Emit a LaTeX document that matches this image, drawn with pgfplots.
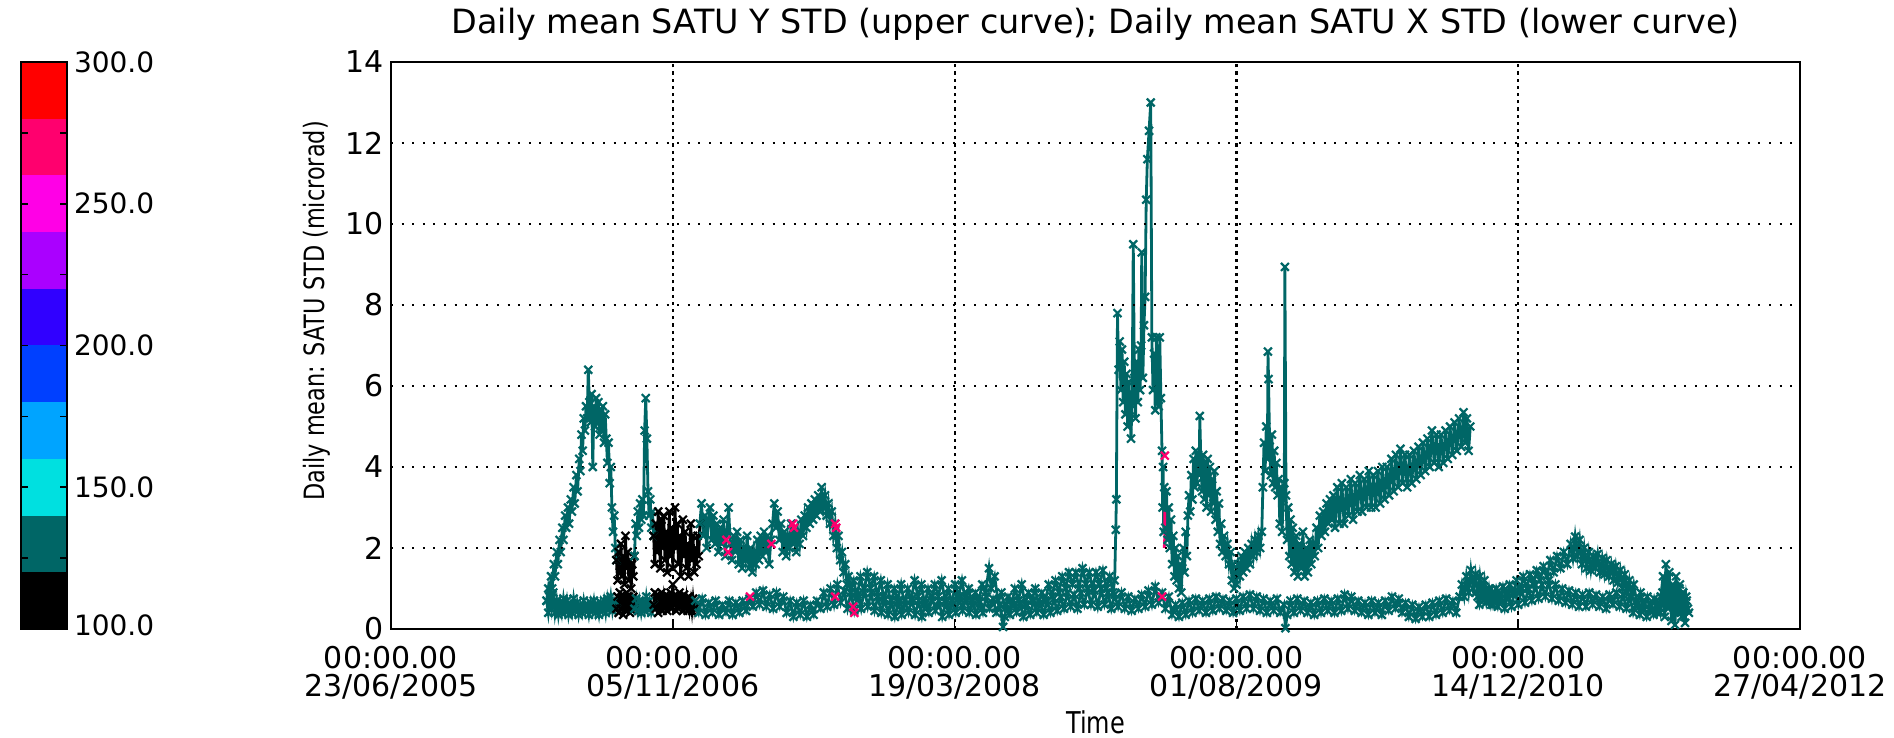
\documentclass[border=0pt]{standalone}
\usepackage{fontspec}
\setmainfont{DejaVu Sans}
\usepackage{graphicx}
\usepackage{pgfplots}
\pgfplotsset{compat=1.18}

\definecolor{tealc}{RGB}{0,102,102}
\definecolor{pinkc}{RGB}{255,0,110}
\definecolor{cbA}{RGB}{0,0,0}
\definecolor{cbB}{RGB}{0,102,102}
\definecolor{cbC}{RGB}{0,224,224}
\definecolor{cbD}{RGB}{0,164,255}
\definecolor{cbE}{RGB}{0,64,255}
\definecolor{cbF}{RGB}{48,0,255}
\definecolor{cbG}{RGB}{170,0,255}
\definecolor{cbH}{RGB}{255,0,230}
\definecolor{cbI}{RGB}{255,0,110}
\definecolor{cbJ}{RGB}{255,0,0}

\pgfplotsset{
  ser/.style={color=tealc, line width=1.4pt, mark=x, mark size=2.8pt,
    mark options={line width=1.1pt}},
  blk/.style={ser, color=black},
}

\begin{document}
\begin{tikzpicture}
\useasboundingbox (0,0) rectangle (947pt,369pt);

% colour bar
\begin{axis}[
  at={(10.5pt,54.5pt)}, anchor=south west,
  width=23pt, height=283.5pt, scale only axis,
  xmin=0, xmax=1, ymin=100, ymax=300,
  xtick=\empty,
  ytick={100,150,200,250,300},
  yticklabels={\raisebox{4pt}{100.0},150.0,200.0,250.0,\raisebox{-5pt}{300.0}},
  minor ytick={125,175,225,275},
  yticklabel pos=right,
  tick align=inside, major tick length=3.5pt, minor tick length=3.5pt,
  tick style={black, line width=0.8pt},
  axis line style={line width=1.2pt},
  axis on top,
  yticklabel style={font=\fontsize{14}{14}\selectfont, anchor=west},
]
\addplot[fill=cbA, draw=none] coordinates {(0,100)(1,100)(1,120)(0,120)};
\addplot[fill=cbB, draw=none] coordinates {(0,120)(1,120)(1,140)(0,140)};
\addplot[fill=cbC, draw=none] coordinates {(0,140)(1,140)(1,160)(0,160)};
\addplot[fill=cbD, draw=none] coordinates {(0,160)(1,160)(1,180)(0,180)};
\addplot[fill=cbE, draw=none] coordinates {(0,180)(1,180)(1,200)(0,200)};
\addplot[fill=cbF, draw=none] coordinates {(0,200)(1,200)(1,220)(0,220)};
\addplot[fill=cbG, draw=none] coordinates {(0,220)(1,220)(1,240)(0,240)};
\addplot[fill=cbH, draw=none] coordinates {(0,240)(1,240)(1,260)(0,260)};
\addplot[fill=cbI, draw=none] coordinates {(0,260)(1,260)(1,280)(0,280)};
\addplot[fill=cbJ, draw=none] coordinates {(0,280)(1,280)(1,300)(0,300)};
\end{axis}

% main plot, x in days since 23/06/2005
\begin{axis}[
  at={(195.5pt,54.5pt)}, anchor=south west,
  width=704.5pt, height=283.5pt, scale only axis,
  xmin=0, xmax=2500, ymin=0, ymax=14,
  xtick={0,500,1000,1500,2000,2500},
  xticklabels={{00:00.00\\23/06/2005},{00:00.00\\05/11/2006},{00:00.00\\19/03/2008},
    {00:00.00\\01/08/2009},{00:00.00\\14/12/2010},{00:00.00\\27/04/2012}},
  ytick={0,2,...,14},
  /pgf/number format/assume math mode=true,
  xticklabel style={align=center, font=\fontsize{15}{14}\selectfont, yshift=-5pt},
  yticklabel style={font=\fontsize{15}{15}\selectfont},
  grid=major,
  x grid style={black, line width=1.1pt, dash pattern=on 1.6pt off 2pt},
  y grid style={black, line width=1.1pt, dash pattern=on 1pt off 4.3pt},
  axis on top,
  axis line style={line width=1.2pt},
  xtick pos=bottom, ytick pos=left,
  tick align=inside, major tick length=4pt,
  tick style={black, line width=0.8pt},
  ytick style={draw=none},
  title={Daily mean SATU Y STD (upper curve); Daily mean SATU X STD (lower curve)},
  title style={at={(0.5,1)}, anchor=base, yshift=8pt, font=\fontsize{16.7}{18}\selectfont},
  xlabel={\scalebox{0.8}[1]{Time}},
  xlabel style={at={(axis description cs:0.5,0)}, anchor=base, yshift=-52pt,
    font=\fontsize{15}{15}\selectfont},
  ylabel={\scalebox{0.8}[1]{Daily mean: SATU STD (microrad)}},
  ylabel style={at={(axis description cs:-0.0525,0.561)}, anchor=center,
    font=\fontsize{14}{14}\selectfont},
]
% lower curve (X STD)
\addplot[ser] coordinates {
(276,0.7)(279,0.4)(282,0.8)(285,0.5)(288,0.9)(291,0.4)(294,0.7)(297,0.35)(300,0.65)(303,0.4)
(306,0.75)(309,0.45)(312,0.7)(315,0.35)(318,0.6)(321,0.4)(324,0.75)(327,0.45)(330,0.65)(333,0.35)
(336,0.6)(339,0.4)(342,0.7)(345,0.45)(348,0.6)(351,0.35)(354,0.65)(357,0.45)(360,0.7)(363,0.4)
(366,0.6)(369,0.35)(372,0.65)(375,0.45)(378,0.7)(381,0.4)(384,0.75)(387,0.5)(390,0.8)(393,0.45)
(396,0.7)(400,0.5)
};
\addplot[blk] coordinates {
(400,0.5)(402,0.8)(404,0.4)(406,0.9)(408,0.5)(410,0.85)(412,0.35)(414,0.75)(416,0.45)(418,0.9)
(420,0.5)(422,0.8)(424,0.4)(426,0.7)(428,0.45)(430,0.8)(432,0.5)
};
\addplot[ser] coordinates {
(432,0.5)(435,0.75)(438,0.45)(441,0.7)(444,0.4)(447,0.65)(450,0.45)(453,0.8)(456,0.5)(459,0.7)
(462,0.4)(466,0.6)
};
\addplot[blk] coordinates {
(466,0.6)(468,0.9)(470,0.5)(472,0.85)(474,0.4)(476,0.8)(478,0.5)(480,0.9)(482,0.45)(484,0.75)
(486,0.5)(488,0.85)(490,0.45)(492,0.8)(494,0.55)(496,0.9)(498,0.5)(500,1.1)(502,0.6)(504,0.85)
(506,0.45)(508,0.8)(510,0.5)(512,0.9)(514,0.55)(516,0.8)(518,0.45)(520,0.85)(522,0.5)(524,0.75)
(526,0.45)(528,0.8)(530,0.5)(532,0.7)(534,0.45)(536,0.75)(538,0.5)(540,0.7)
};
\addplot[ser] coordinates {
(540,0.7)(546,0.4)(552,0.75)(558,0.35)(564,0.65)(570,0.4)(576,0.7)(582,0.35)(588,0.6)(594,0.4)
(600,0.7)(606,0.35)(612,0.65)(618,0.4)(624,0.7)(630,0.45)(636,0.75)(642,0.55)(648,0.9)(654,0.6)
(660,0.95)(666,0.55)(672,0.85)(678,0.5)(684,0.9)(690,0.55)(696,0.8)(702,0.4)(708,0.7)(714,0.3)
(720,0.65)(726,0.35)(732,0.7)(738,0.3)(744,0.6)(750,0.35)(756,0.7)(762,0.5)(768,0.9)(774,0.55)
(780,1.0)(786,0.6)(792,1.1)(798,0.65)(804,0.95)(810,0.5)(816,0.9)(822,0.45)(828,0.85)(834,0.5)
(840,1.0)(846,0.55)(852,0.9)(858,0.45)(864,0.8)(870,0.4)(876,0.75)(882,0.35)(888,0.7)(894,0.3)
(900,0.65)(906,0.35)(912,0.7)(918,0.4)(924,0.75)(930,0.35)(936,0.7)(942,0.3)(948,0.65)(954,0.4)
(960,0.8)(966,0.45)(972,0.7)(978,0.3)(984,0.65)(990,0.35)(996,0.7)(1002,0.4)(1008,0.75)(1014,0.45)
(1020,0.8)(1026,0.4)(1032,0.7)(1038,0.35)(1044,0.65)(1050,0.4)(1056,0.8)(1062,0.5)(1068,0.75)(1074,0.4)
(1080,0.6)(1086,0.05)(1089,0.3)(1092,0.6)(1098,0.35)(1104,0.7)(1110,0.4)(1116,0.65)(1122,0.3)(1128,0.6)
(1134,0.35)(1140,0.7)(1146,0.4)(1152,0.65)(1158,0.35)(1164,0.7)(1170,0.4)(1176,0.75)(1182,0.45)(1188,0.8)
(1194,0.5)(1200,0.9)(1206,0.55)(1212,0.85)(1218,0.5)(1224,0.9)(1230,0.6)(1236,1.0)(1242,0.6)(1248,0.95)
(1254,0.55)(1260,1.0)(1266,0.6)(1272,0.9)(1278,0.5)(1284,0.85)(1290,0.55)(1296,0.9)(1302,0.5)(1308,0.8)
(1314,0.45)(1320,0.75)(1326,0.5)(1332,0.85)(1338,0.55)(1344,0.95)(1350,0.6)(1356,1.05)(1362,0.65)(1368,0.9)
(1374,0.5)(1380,0.8)(1386,0.35)(1392,0.6)(1398,0.3)(1404,0.65)(1410,0.35)(1416,0.7)(1422,0.4)(1428,0.75)
(1434,0.45)(1440,0.7)(1446,0.4)(1452,0.75)(1458,0.45)(1464,0.8)(1470,0.5)(1476,0.75)(1482,0.45)(1488,0.7)
(1494,0.4)(1500,0.75)(1506,0.45)(1512,0.8)(1518,0.5)(1524,0.85)(1530,0.5)(1536,0.8)(1542,0.45)(1548,0.75)
(1554,0.4)(1560,0.7)(1566,0.45)(1572,0.75)(1578,0.4)(1584,0.6)(1587,0.02)(1590,0.35)(1596,0.7)(1602,0.4)
(1608,0.75)(1614,0.45)(1620,0.7)(1626,0.4)(1632,0.65)(1638,0.35)(1644,0.7)(1650,0.4)(1656,0.75)(1662,0.45)
(1668,0.7)(1674,0.4)(1680,0.75)(1686,0.45)(1692,0.85)(1698,0.5)(1704,0.8)(1710,0.45)(1716,0.7)(1722,0.4)
(1728,0.65)(1734,0.35)(1740,0.7)(1746,0.4)(1752,0.65)(1758,0.35)(1764,0.7)(1770,0.45)(1776,0.8)(1782,0.5)
(1788,0.75)(1794,0.4)(1800,0.65)(1806,0.3)(1812,0.6)(1818,0.25)(1824,0.55)(1830,0.3)(1836,0.6)(1842,0.3)
(1848,0.65)(1854,0.35)(1860,0.7)(1866,0.4)(1872,0.75)(1878,0.45)(1884,0.7)(1890,0.4)(1896,0.8)(1900,1.1)
(1904,0.8)(1908,1.3)(1912,0.9)(1916,1.45)(1920,1.0)(1924,1.35)(1928,0.8)(1932,1.3)(1936,0.85)(1940,1.2)
(1944,0.7)(1948,1.0)(1952,0.6)(1958,0.9)(1964,0.55)(1970,0.85)(1976,0.5)(1982,0.9)(1988,0.55)(1994,0.95)
(2000,0.6)(2006,1.0)(2012,0.65)(2018,1.0)(2024,0.7)(2030,1.1)(2036,0.75)(2042,1.1)(2048,0.8)(2054,1.2)
(2060,0.75)(2066,1.1)(2072,0.7)(2078,1.0)(2084,0.65)(2090,0.95)(2096,0.6)(2102,0.9)(2108,0.55)(2114,0.85)
(2120,0.55)(2126,0.9)(2132,0.6)(2138,0.85)(2144,0.55)(2150,0.8)(2156,0.5)(2162,0.85)(2168,0.6)(2174,0.9)
(2180,0.55)(2186,0.85)(2192,0.5)(2198,0.8)(2204,0.4)(2210,0.7)(2216,0.35)(2222,0.65)(2228,0.3)(2234,0.6)
(2240,0.35)(2246,0.7)(2252,0.4)(2256,0.9)(2260,0.3)(2263,1.2)(2266,0.5)(2269,1.0)(2272,0.2)(2275,0.8)
(2278,0.1)(2281,0.9)(2284,0.4)(2287,1.1)(2290,0.3)(2293,0.9)(2296,0.15)(2299,0.7)(2303,0.4)
};
% upper curve (Y STD)
\addplot[ser] coordinates {
(276,0.7)(279,1.0)(281,0.8)(284,1.3)(286,1.0)(289,1.6)(291,1.3)(294,1.9)(296,1.6)(299,2.2)
(301,1.9)(304,2.5)(306,2.2)(309,2.8)(311,2.5)(314,3.0)(316,2.6)(319,3.2)(321,2.9)(324,3.5)
(326,3.1)(329,3.8)(331,3.4)(334,4.2)(336,3.9)(338,4.8)(340,4.4)(342,5.2)(344,4.9)(346,5.5)
(348,5.2)(350,6.4)(352,5.6)(354,5.1)(356,5.8)(358,4.0)(360,5.5)(362,5.0)(364,5.7)(366,5.1)
(368,5.6)(370,4.8)(372,5.4)(374,4.9)(376,5.5)(378,4.6)(380,5.3)(382,4.7)(384,4.1)(386,4.6)
(388,3.6)(390,4.0)(392,3.0)(394,2.4)(396,2.8)(398,2.0)(400,1.7)
};
\addplot[blk] coordinates {
(400,1.7)(402,1.2)(404,1.9)(406,1.4)(408,2.1)(410,1.3)(412,1.8)(414,1.1)(416,2.3)(418,1.5)
(420,1.9)(422,1.2)(424,1.7)(426,1.0)(428,1.6)(430,1.3)(432,1.8)
};
\addplot[ser] coordinates {
(432,1.8)(434,2.6)(436,2.3)(438,2.9)(440,2.5)(442,3.1)(444,2.7)(446,3.2)(448,2.8)(450,4.9)
(452,5.7)(454,4.7)(456,3.4)(458,2.8)(460,3.2)(462,2.5)(464,2.9)(466,2.3)
};
\addplot[blk] coordinates {
(466,2.3)(468,1.6)(470,2.6)(472,1.9)(474,2.9)(476,2.2)(478,1.5)(480,2.7)(482,2.0)(484,2.8)
(486,1.7)(488,2.4)(490,1.4)(492,2.2)(494,2.9)(496,1.8)(498,2.5)(500,1.5)(502,2.3)(504,3.0)
(506,2.0)(508,2.6)(510,1.6)(512,2.3)(514,1.3)(516,2.0)(518,2.7)(520,1.8)(522,2.4)(524,1.5)
(526,2.1)(528,1.3)(530,1.9)(532,2.6)(534,1.7)(536,2.3)(538,1.4)(540,2.0)(542,1.6)(544,2.3)
(546,1.8)(548,2.6)
};
\addplot[ser] coordinates {
(548,2.6)(551,3.1)(554,2.3)(557,2.8)(560,2.0)(563,2.7)(566,3.0)(569,2.2)(572,2.8)(575,2.1)
(578,2.6)(581,1.9)(584,2.5)(587,2.1)(590,2.7)(593,1.8)(596,2.4)(599,3.0)(602,2.1)(605,1.7)
(608,2.3)(611,1.9)(614,2.4)(617,1.6)(620,2.2)(623,1.5)(626,2.0)(629,1.7)(632,2.3)(635,1.5)
(638,2.0)(641,1.4)(644,1.9)(647,1.6)(650,2.2)(653,1.7)(656,2.3)(659,1.8)(662,2.4)(665,1.9)
(668,2.3)(671,1.6)(674,2.2)(677,2.6)(680,3.1)(683,2.5)(686,2.9)(689,2.2)(692,2.6)(695,1.9)
(698,2.4)(701,1.8)(704,2.3)(707,2.0)(710,2.6)(713,2.1)(716,2.5)(719,1.9)(722,2.4)(725,2.1)
(728,2.7)(731,2.3)(734,2.8)(737,2.5)(740,3.0)(743,2.6)(746,3.1)(749,2.7)(752,3.2)(755,2.8)
(758,3.3)(761,2.9)(764,3.5)(767,3.0)(770,3.3)(773,2.8)(776,3.1)(779,2.6)(782,2.9)(785,2.3)
(788,2.6)(791,2.0)(794,2.3)(797,1.7)(800,1.9)(803,1.4)(806,1.6)(809,1.1)(812,1.3)(815,0.9)
(821,1.2)(827,0.8)(833,1.3)(839,0.9)(845,1.4)(851,1.0)(857,1.3)(863,0.8)(869,1.2)(875,0.7)
(881,1.1)(887,0.6)(893,1.0)(899,0.7)(905,1.1)(911,0.6)(917,1.0)(923,0.7)(929,1.2)(935,0.8)
(941,1.1)(947,0.6)(953,1.0)(959,0.7)(965,1.1)(971,0.8)(977,1.2)(983,0.7)(989,1.0)(995,0.6)
(1001,1.1)(1007,0.8)(1013,1.2)(1019,0.7)(1025,1.0)(1031,0.6)(1037,0.9)(1043,0.7)(1049,1.1)(1055,0.9)
(1061,1.5)(1065,1.0)(1071,1.3)(1077,0.7)(1083,0.9)(1089,0.5)(1095,0.8)(1101,0.6)(1107,1.0)(1113,0.7)
(1119,1.1)(1125,0.6)(1131,0.9)(1137,0.7)(1143,1.0)(1149,0.6)(1155,0.9)(1161,0.7)(1167,1.1)(1173,0.8)
(1179,1.2)(1185,0.9)(1191,1.3)(1197,1.0)(1203,1.4)(1209,1.1)(1215,1.4)(1221,1.0)(1227,1.5)(1233,1.1)
(1239,1.4)(1245,1.0)(1251,1.4)(1257,1.1)(1263,1.45)(1269,1.0)(1275,1.3)(1281,0.9)(1284,1.2)(1286,2.45)
(1287,3.2)(1289,7.8)(1291,6.4)(1293,7.1)(1295,5.9)(1297,6.9)(1299,5.6)(1301,6.6)(1303,5.3)(1305,6.3)
(1307,5.0)(1309,6.1)(1311,5.4)(1313,4.7)(1315,5.8)(1317,9.5)(1319,6.2)(1321,5.2)(1323,6.6)(1325,5.6)
(1327,6.9)(1329,5.9)(1331,7.0)(1332,9.3)(1334,6.2)(1336,7.5)(1338,8.2)(1340,10.6)(1342,11.6)(1345,12.3)
(1348,13.0)(1350,7.2)(1352,5.9)(1354,6.8)(1356,5.4)(1358,7.2)(1360,6.1)(1362,5.5)(1364,7.2)(1366,5.7)
(1368,4.4)(1369,3.0)(1370,4.0)(1371,2.4)(1372,3.5)(1374,2.5)(1376,3.4)(1378,2.2)(1380,3.0)(1382,2.0)
(1384,2.7)(1386,1.6)(1388,2.3)(1390,1.3)(1392,2.0)(1394,1.2)(1396,1.8)(1398,1.0)(1400,1.6)(1402,0.9)
(1404,1.5)(1406,2.0)(1408,1.4)(1410,2.4)(1412,1.8)(1414,2.8)(1416,3.3)(1418,2.9)(1420,3.8)(1422,3.2)
(1424,4.2)(1426,3.5)(1428,4.4)(1430,3.6)(1432,4.3)(1434,3.8)(1435,5.26)(1437,4.1)(1439,3.4)(1441,4.3)
(1443,3.2)(1445,4.1)(1447,3.0)(1449,4.2)(1451,3.3)(1453,4.0)(1455,2.9)(1457,3.7)(1459,3.1)(1461,3.9)
(1463,2.7)(1465,3.4)(1467,2.4)(1469,3.1)(1471,2.1)(1473,2.6)(1475,1.9)(1478,2.3)(1481,1.8)(1484,2.1)
(1487,1.6)(1490,1.9)(1492,1.2)(1494,1.6)(1496,1.0)(1498,1.4)(1500,1.1)(1503,1.6)(1506,1.3)(1509,1.8)
(1512,1.4)(1515,1.9)(1518,1.5)(1521,2.0)(1524,1.6)(1527,2.1)(1530,1.8)(1533,2.2)(1536,1.9)(1539,2.3)
(1542,2.0)(1545,2.4)(1547,3.5)(1549,4.6)(1551,3.9)(1553,5.0)(1555,4.2)(1556,6.85)(1557,6.17)(1559,4.5)
(1561,3.8)(1563,4.8)(1565,3.6)(1567,4.4)(1569,3.5)(1571,4.1)(1573,3.3)(1575,3.7)(1577,2.6)(1579,3.5)
(1581,2.4)(1583,3.2)(1585,3.6)(1586,8.94)(1588,3.3)(1590,2.2)(1592,3.0)(1594,1.8)(1596,2.7)(1598,1.6)
(1600,2.5)(1603,1.4)(1606,2.3)(1609,1.3)(1612,2.1)(1615,1.5)(1618,2.4)(1621,1.3)(1624,2.0)(1627,1.4)
(1630,2.2)(1633,1.6)(1636,2.1)(1639,1.8)(1642,2.5)(1645,2.0)(1648,2.8)(1651,2.3)(1654,2.9)(1657,2.4)
(1660,3.1)(1663,2.6)(1666,3.2)(1669,2.7)(1672,3.3)(1675,2.5)(1679,3.5)(1683,2.6)(1687,3.6)(1691,2.6)
(1695,3.5)(1699,2.8)(1703,3.7)(1707,2.7)(1711,3.6)(1715,2.9)(1719,3.8)(1723,2.9)(1727,3.7)(1731,3.0)
(1735,3.9)(1739,3.0)(1743,3.8)(1747,3.0)(1751,3.9)(1755,3.1)(1759,4.0)(1763,3.2)(1767,4.0)(1771,3.3)
(1775,4.2)(1779,3.4)(1783,4.3)(1787,3.5)(1791,4.45)(1795,3.6)(1799,4.3)(1803,3.5)(1807,4.3)(1811,3.6)
(1815,4.4)(1819,3.7)(1823,4.5)(1827,3.8)(1831,4.6)(1835,3.9)(1839,4.7)(1843,4.0)(1847,4.9)(1851,4.1)
(1855,4.8)(1859,4.0)(1863,4.8)(1867,4.1)(1871,4.9)(1875,4.2)(1879,5.0)(1883,4.3)(1887,5.1)(1891,4.4)
(1895,5.2)(1899,4.5)(1903,5.35)(1906,4.6)(1909,5.2)(1912,4.4)(1915,5.0)
};
\addplot[ser] coordinates {
(1925,0.9)(1931,0.6)(1937,1.0)(1943,0.65)(1949,0.95)(1955,0.6)(1961,1.0)(1967,0.7)(1973,1.05)(1979,0.75)
(1985,1.1)(1991,0.85)(1997,1.2)(2003,0.9)(2009,1.3)(2015,1.0)(2021,1.35)(2027,1.1)(2033,1.45)(2039,1.2)
(2045,1.55)(2051,1.3)(2057,1.7)(2063,1.4)(2069,1.8)(2075,1.5)(2081,1.9)(2087,1.6)(2093,2.1)(2097,1.75)
(2101,2.28)(2105,1.8)(2109,2.2)(2113,1.6)(2117,2.0)(2121,1.5)(2125,1.9)(2129,1.45)(2133,1.8)(2137,1.5)
(2141,1.85)(2145,1.4)(2149,1.75)(2153,1.35)(2157,1.7)(2161,1.3)(2165,1.6)(2169,1.2)(2173,1.55)(2177,1.15)
(2181,1.45)(2185,1.0)(2189,1.35)(2193,0.9)(2197,1.2)(2201,0.8)(2205,1.1)(2211,0.6)(2217,0.9)(2223,0.5)
(2229,0.8)(2235,0.45)(2241,0.75)(2247,0.4)(2253,0.8)(2257,1.3)(2260,0.7)(2262,1.6)(2265,0.9)(2268,1.4)
(2271,0.6)(2274,1.1)(2277,0.5)(2280,1.3)(2283,0.6)(2286,1.0)(2289,0.4)(2292,0.9)(2295,0.3)(2298,0.8)
(2301,0.5)
};
% points of the warmer colour
\addplot[only marks, mark=x, mark size=2.8pt, color=pinkc, mark options={line width=1.1pt}] coordinates {
(595,2.2)(598,1.9)(675,2.1)(713,2.6)(715,2.5)(788,2.6)(790,2.5)(637,0.8)(788,0.8)(820,0.55)
(822,0.4)(1373,4.28)(1368,0.8)
};
\addplot[color=pinkc, line width=1.4pt] coordinates {(1373,2.9)(1373,2.3)(1372,2.0)};
\end{axis}
\end{tikzpicture}
\end{document}
